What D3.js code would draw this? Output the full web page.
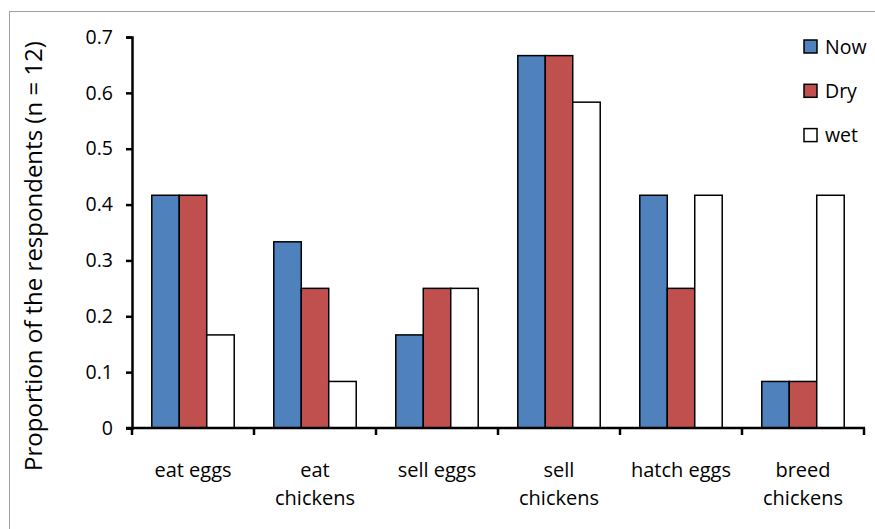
<!DOCTYPE html>
<html><head><meta charset="utf-8">
<script src="https://cdn.jsdelivr.net/npm/d3@7"></script>
<style>body{margin:0;background:#fff;} text{font-family:"Open Sans",Lato,sans-serif;fill:#000;}</style>
</head><body>
<svg id="c" width="875" height="529"></svg>
<script>
const categories = [["eat eggs"],["eat","chickens"],["sell eggs"],["sell","chickens"],["hatch eggs"],["breed","chickens"]];
const seriesNames = ["Now","Dry","wet"];
const nowVals = [5/12, 4/12, 2/12, 8/12, 5/12, 1/12];
const dryVals = [5/12, 3/12, 3/12, 8/12, 3/12, 1/12];
const wetVals = [2/12, 1/12, 3/12, 7/12, 5/12, 5/12];
const colors = ["#4F81BD","#C0504D","#FFFFFF"];
const yTicks = [0,0.1,0.2,0.3,0.4,0.5,0.6,0.7];
const yTickLabels = ["0","0.1","0.2","0.3","0.4","0.5","0.6","0.7"];

const svg = d3.select("#c");
svg.append("rect").attr("x",9.5).attr("y",11.5).attr("width",900).attr("height",600)
  .attr("fill","none").attr("stroke","#a0a0a0").attr("stroke-width",1);

const m = {l:132, r:864, t:37, b:428};
const x = d3.scaleBand().domain(d3.range(categories.length)).range([m.l,m.r]).paddingInner(0).paddingOuter(0);
const xs = d3.scaleBand().domain(seriesNames).range([0,x.bandwidth()]).paddingInner(0).paddingOuter(0.72);
const y = d3.scaleLinear().domain([0,0.7]).range([m.b,m.t]);
const series = [nowVals, dryVals, wetVals];

series.forEach((vals,si)=>{
  svg.append("g").selectAll("rect").data(vals).join("rect")
    .attr("x",(d,i)=>x(i)+xs(seriesNames[si]))
    .attr("y",d=>y(d))
    .attr("width",xs.bandwidth())
    .attr("height",d=>y(0)-y(d))
    .attr("fill",colors[si]).attr("stroke","#000").attr("stroke-width",1.5);
});

// y axis
const ya = svg.append("g").attr("transform",`translate(${m.l},0)`)
  .call(d3.axisLeft(y).tickValues(yTicks).tickFormat((d,i)=>yTickLabels[i]).tickSize(6).tickPadding(13));
ya.select(".domain").attr("stroke","#000").attr("stroke-width",2.5);
ya.selectAll(".tick line").attr("stroke","#000").attr("stroke-width",2.5);
ya.selectAll(".tick text").style("font-size","19.5px").attr("font-family","Open Sans");

// x axis
const xa = svg.append("g").attr("transform",`translate(0,${m.b})`);
xa.append("line").attr("x1",m.l-6).attr("x2",m.r+1).attr("y1",0).attr("y2",0).attr("stroke","#000").attr("stroke-width",2.5);
const edges = d3.range(categories.length+1).map(i=> i<categories.length ? x(i) : x(i-1)+x.bandwidth());
xa.selectAll("line.t").data(edges).join("line").attr("class","t")
  .attr("x1",d=>d).attr("x2",d=>d).attr("y1",0).attr("y2",7).attr("stroke","#000").attr("stroke-width",2.5);
categories.forEach((lines,i)=>{
  const t = xa.append("text").attr("text-anchor","middle").style("font-size","20px")
    .attr("x",x(i)+x.bandwidth()/2).attr("y",48.5);
  lines.forEach((l,j)=>t.append("tspan").attr("x",x(i)+x.bandwidth()/2).attr("dy",j?28.5:0).text(l));
});

// y label
const yl = svg.append("text").attr("transform","translate(42,256) rotate(-90)").attr("text-anchor","middle")
  .style("font-size","20px").text("Proportion of the respondents  (n = 12)");
const len = yl.node().getComputedTextLength();
yl.style("font-size",(20*430/len).toFixed(2)+"px");

// legend
const lg = svg.append("g");
seriesNames.forEach((n,i)=>{
  const yy = 46.5 + i*44.3;
  lg.append("rect").attr("x",804).attr("y",yy-6.5).attr("width",13).attr("height",13)
    .attr("fill",colors[i]).attr("stroke","#000").attr("stroke-width",1.5);
  lg.append("text").attr("x",825).attr("y",yy+7).style("font-size","19.5px").text(n);
});
</script>
</body></html>
